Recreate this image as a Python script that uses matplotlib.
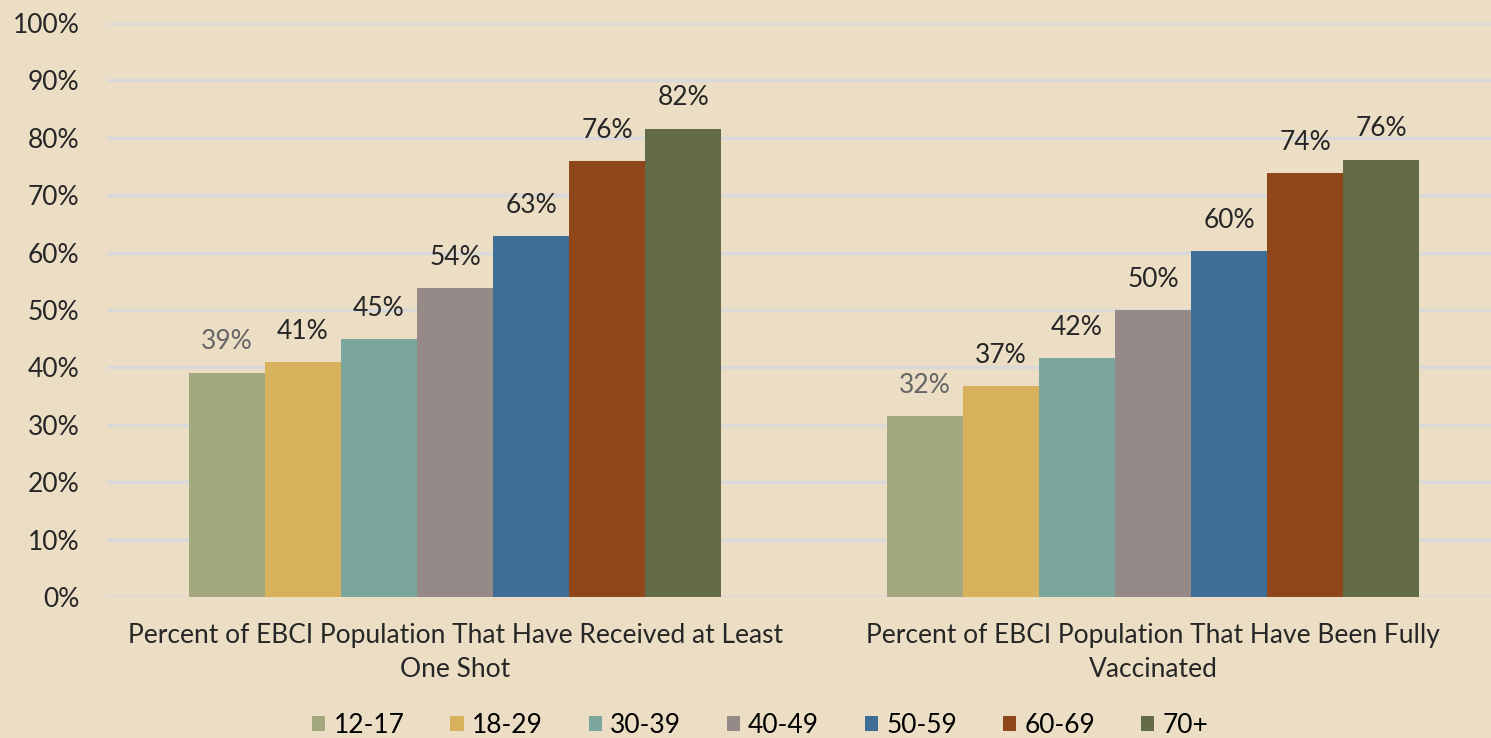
import numpy as np
import matplotlib
matplotlib.use('Agg')
import matplotlib.pyplot as plt

# Daten
categories = ["Percent of EBCI Population That Have Received at Least\nOne Shot",
              "Percent of EBCI Population That Have Been Fully\nVaccinated"]
age_groups = ["12-17", "18-29", "30-39", "40-49", "50-59", "60-69", "70+"]
one_shot = [39.1, 41.0, 45.0, 53.8, 62.9, 76.0, 81.6]
fully_vacc = [31.6, 36.7, 41.6, 50.0, 60.2, 73.8, 76.2]
values = np.array([one_shot, fully_vacc])   # dim 0: Kategorie, dim 1: Altersgruppe

colors = ["#a3a87e", "#d8b15c", "#7ca59b", "#968a88", "#3e6e96", "#8f461b", "#636a46"]
bg = "#ebdec4"
fsize = 19

plt.rcParams['font.family'] = ['Lato', 'DejaVu Sans']

fig = plt.figure(figsize=(14.91, 7.38), dpi=100, facecolor=bg)
ax = fig.add_axes([0.0718, 0.191, 0.9282, 0.778])
ax.set_facecolor(bg)

x = np.arange(len(categories))
w = 0.109
n = len(age_groups)
for i in range(n):
    pos = x + (i - (n - 1) / 2) * w
    bars = ax.bar(pos, values[:, i], width=w, color=colors[i], label=age_groups[i], zorder=3)
    for b, v in zip(bars, values[:, i]):
        ax.annotate(f"{v:.0f}%", (b.get_x() + b.get_width() / 2, v),
                    xytext=(0, 22), textcoords="offset points",
                    ha="center", va="center", fontsize=fsize,
                    color="#666666" if i == 0 else "#262626")

ax.set_xlim(-0.4986, 1.484)
ax.set_ylim(0, 100)
ax.set_yticks(np.arange(0, 101, 10))
ax.set_yticklabels([f"{t}%" for t in range(0, 101, 10)])
ax.set_xticks(x)
ax.set_xticklabels(categories, fontsize=fsize, linespacing=1.45)
ax.tick_params(axis='y', length=0, pad=20, labelsize=fsize, labelcolor="#262626")
ax.tick_params(axis='x', length=0, pad=19, labelcolor="#262626")
ax.yaxis.grid(True, color="#d9d9d9", linewidth=2.5, zorder=0)
for s in ax.spines.values():
    s.set_visible(False)

ax.legend(loc="center", bbox_to_anchor=(0.472, -0.223), ncol=n, frameon=False,
          fontsize=fsize, handlelength=0.5, handleheight=0.5, handletextpad=0.3,
          columnspacing=1.75)

fig.savefig("out.png", dpi=100, facecolor=bg)
